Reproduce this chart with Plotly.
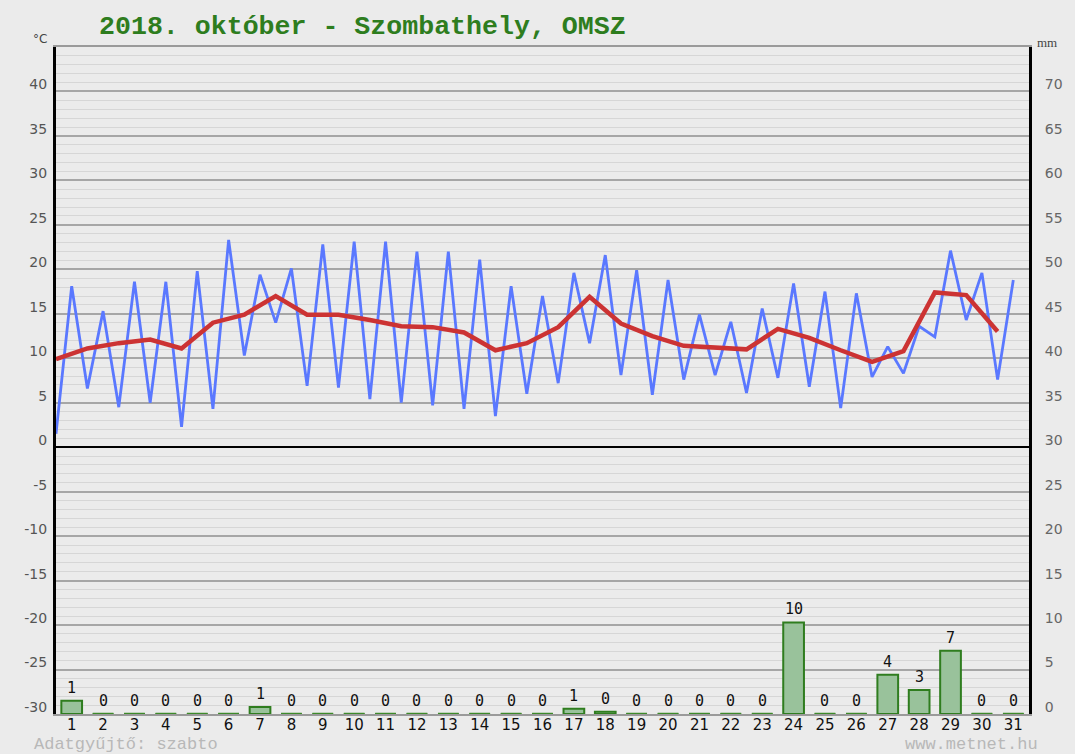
import plotly.graph_objects as go

# ---- data ----
days = list(range(1, 32))
t_min = [1.5, 6.6, 4.5, 5.0, 2.3, 4.3, 10.3, 14.0, 6.9, 6.7, 5.4, 5.0, 4.7, 4.3, 3.5, 6.0,
         7.2, 11.7, 8.1, 5.9, 7.6, 8.1, 6.1, 7.8, 6.8, 4.4, 7.9, 8.3, 12.4, 14.3, 7.6]
t_max = [18.1, 15.3, 18.6, 18.6, 19.8, 23.3, 19.4, 20.1, 22.8, 23.1, 23.1, 22.0, 22.0, 21.1, 18.1, 17.0,
         19.6, 21.6, 19.9, 18.8, 14.9, 14.1, 15.6, 18.4, 17.5, 17.3, 11.3, 13.6, 22.1, 19.6, 18.8]
t_mean = [9.9, 11.1, 11.7, 12.1, 11.1, 14.0, 14.9, 17.0, 14.9, 14.9, 14.3, 13.6, 13.5, 12.9, 10.9, 11.7,
          13.5, 16.9, 13.9, 12.5, 11.4, 11.2, 11.0, 13.3, 12.3, 10.9, 9.6, 10.8, 17.4, 17.1, 13.0]
precip = [1.5, 0, 0, 0, 0, 0, 0.8, 0, 0, 0, 0, 0, 0, 0, 0, 0,
          0.6, 0.25, 0, 0, 0, 0, 0, 10.3, 0, 0, 4.4, 2.7, 7.1, 0, 0]
precip_labels = ["1", "0", "0", "0", "0", "0", "1", "0", "0", "0", "0", "0", "0", "0", "0", "0",
                 "1", "0", "0", "0", "0", "0", "0", "10", "0", "0", "4", "3", "7", "0", "0"]
temp_ticks = list(range(-30, 45, 5))
temp_tick_labels = ["-30", "-25", "-20", "-15", "-10", "-5", "0", "5", "10", "15", "20",
                    "25", "30", "35", "40"]
mm_ticks = list(range(0, 75, 5))

# ---- derived series ----
bx, by = [], []
for d, lo, hi in zip(days, t_min, t_max):
    bx += [d - 0.5, d]
    by += [lo, hi]
mean_x = [d - 0.5 for d in days]

zx, zy = [], []
for d, p in zip(days, precip):
    if p == 0:
        zx += [d - 0.33, d + 0.33, None]
        zy += [0, 0, None]

BG = "#ebebeb"
fig = go.Figure()

fig.add_trace(go.Scatter(x=bx, y=by, mode="lines", line=dict(color="#5a78ff", width=2.8),
                         hoverinfo="skip", yaxis="y"))
fig.add_trace(go.Scatter(x=mean_x, y=t_mean, mode="lines", line=dict(color="#cc3333", width=4.5),
                         hoverinfo="skip", yaxis="y"))
fig.add_trace(go.Bar(x=days, y=precip, width=0.66, yaxis="y2",
                     marker=dict(color="#99c29b", line=dict(color="#2f7d1f", width=2))))
fig.add_trace(go.Scatter(x=zx, y=zy, mode="lines", yaxis="y2", cliponaxis=False,
                         line=dict(color="#3d8a2a", width=2.5), hoverinfo="skip"))

annotations = [
    dict(x=d, y=p, xref="x", yref="y2", text=lab, showarrow=False, yanchor="bottom",
         yshift=2, font=dict(family="DejaVu Sans Mono", size=15, color="#111111"))
    for d, p, lab in zip(days, precip, precip_labels)
]
annotations += [
    dict(text="2018. október - Szombathely, OMSZ", xref="paper", yref="paper",
         x=(97 - 56) / 978, y=1 + (47 - 27) / 667, xanchor="left", yanchor="middle",
         showarrow=False, font=dict(family="Liberation Mono", size=26.6, color="#2e7d1e",
                                    weight="bold")),
    dict(text="°C", xref="paper", yref="paper", x=(49 - 56) / 978, y=1 + (47 - 39) / 667,
         xanchor="right", yanchor="middle", showarrow=False,
         font=dict(family="DejaVu Sans", size=12, color="#444444")),
    dict(text="mm", xref="paper", yref="paper", x=(1052 - 56) / 978, y=1 + (47 - 42) / 667,
         xanchor="center", yanchor="middle", showarrow=False,
         font=dict(family="Liberation Serif", size=13, color="#444444")),
    dict(text="Adatgyűjtő: szabto", xref="paper", yref="paper", x=(32 - 56) / 978,
         y=-(744 - 714) / 667, xanchor="left", yanchor="middle", showarrow=False,
         font=dict(family="Liberation Mono", size=17, color="#b8b8b8")),
    dict(text="www.metnet.hu", xref="paper", yref="paper", x=(1045 - 56) / 978,
         y=-(744 - 714) / 667, xanchor="right", yanchor="middle", showarrow=False,
         font=dict(family="Liberation Mono", size=17, color="#b8b8b8")),
]

fig.update_layout(
    width=1075, height=754,
    margin=dict(l=56, r=41, t=47, b=40),
    paper_bgcolor=BG, plot_bgcolor=BG,
    showlegend=False,
    xaxis=dict(range=[0.5, 31.5], tickvals=days, ticktext=[str(d) for d in days],
               showgrid=False, zeroline=False, showline=True, mirror=True,
               linecolor="#9a9a9a", linewidth=1.5, ticks="", ticklabelstandoff=-4,
               tickfont=dict(family="DejaVu Sans", size=15, color="#111111")),
    yaxis=dict(range=[-30, 45], tickvals=temp_ticks, ticktext=temp_tick_labels,
               showgrid=True, gridcolor="#a6a6a6",
               gridwidth=1.5, zeroline=True, zerolinecolor="#000000", zerolinewidth=2,
               showline=True, linecolor="#000000", linewidth=3, ticks="",
               ticklabelshift=-7, ticklabelstandoff=3,
               minor=dict(dtick=1, showgrid=True, gridcolor="#d6d6d6", gridwidth=1),
               tickfont=dict(family="DejaVu Sans", size=14, color="#555555")),
    yaxis2=dict(range=[0, 75], tickvals=mm_ticks, overlaying="y", side="right",
                showgrid=False, zeroline=False, showline=True, linecolor="#000000",
                linewidth=3, ticks="", ticklabelshift=-7, ticklabelstandoff=10,
                tickfont=dict(family="DejaVu Sans", size=14, color="#666666")),
    annotations=annotations,
)

fig.write_html("out.html", config={"displayModeBar": False},
               post_script="document.body.style.margin='0';")
